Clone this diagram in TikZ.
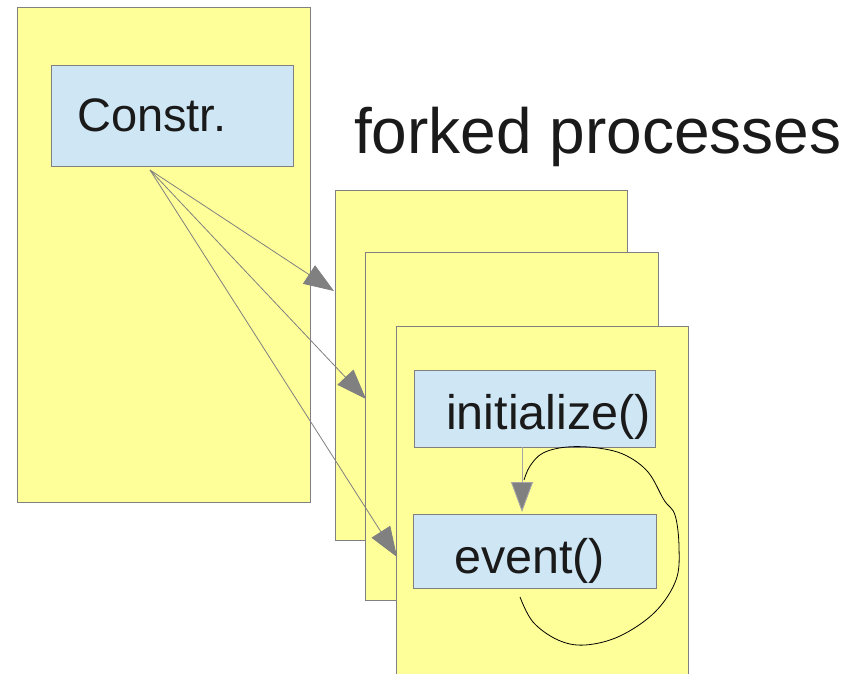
\documentclass[tikz,border=0pt]{standalone}
\usepackage{fontspec}
\setmainfont{Liberation Sans}
\usetikzlibrary{arrows.meta}
\definecolor{procyellow}{HTML}{FFFF99}
\definecolor{funcblue}{HTML}{CFE7F5}
\definecolor{edgegray}{HTML}{808080}
\definecolor{inkblack}{HTML}{1A1A1A}
\tikzset{
  procbox/.style={draw=edgegray, fill=procyellow, line width=0.9pt},
  funcbox/.style={draw=edgegray, fill=funcblue, line width=0.9pt},
  boxlabel/.style={font=\fontsize{#1}{#1}\selectfont, text=inkblack, inner sep=0pt, anchor=base west},
  forkarrow/.style={draw=edgegray, line width=0.8pt, -{Triangle[length=30pt,width=22pt]}},
}
\begin{document}
\begin{tikzpicture}[x=1pt,y=-1pt]
\useasboundingbox (0,0) rectangle (861,673);

% parent process with its constructor
\draw[procbox] (17,7) rectangle (310,502);
\draw[funcbox] (51,65) rectangle (293,166);
\node[boxlabel=47] (constr) at (77,131) {Constr.};

% title
\node[boxlabel=64] (title) at (354,153) {forked processes};

% stack of forked processes
\draw[procbox] (335,190) rectangle (627,540);
\draw[procbox] (365,252) rectangle (658,600);
\draw[procbox] (396,326) rectangle (688,690);

% functions inside the front process
\draw[funcbox] (414,370) rectangle (655,447);
\draw[funcbox] (413,514) rectangle (656,588);
\node[boxlabel=48.5] (init) at (446,429) {initialize()};
\node[boxlabel=48.5] (event) at (454,573) {event()};

% fork connectors
\coordinate (forksrc) at (150,170);
\coordinate (p1) at (334,291);
\coordinate (p2) at (366,399);
\coordinate (p3) at (397,557);
\draw[forkarrow] (forksrc) -- (p1);
\draw[forkarrow] (forksrc) -- (p2);
\draw[forkarrow] (forksrc) -- (p3);

% initialize -> event
\coordinate (initbot) at (522,447);
\coordinate (eventtop) at (522,512);
\draw[draw=edgegray!70, line width=0.9pt, -{Triangle[length=30pt,width=22pt,fill=edgegray]}] (initbot) -- (eventtop);

% event loop
\draw[black, line width=0.8pt] plot[smooth, tension=0.6] coordinates {
  (520,597) (533,622) (558,640) (585,645) (620,636) (655,612) (676,580)
  (679,547) (675,515) (664,500) (648,472) (625,455) (598,448) (567,447)
  (543,453) (530,466) (524,480)};
\end{tikzpicture}
\end{document}
